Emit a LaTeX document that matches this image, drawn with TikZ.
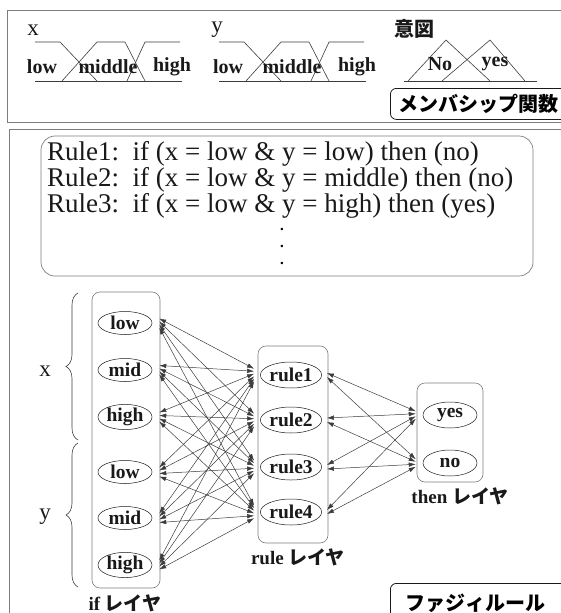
\documentclass[tikz,border=0pt]{standalone}
\usepackage{fontspec}
\setmainfont{Liberation Serif}
\newfontfamily\jpfont{Noto Sans CJK JP}
\usepackage{tikz}
\usetikzlibrary{arrows.meta, shapes.geometric, decorations.pathreplacing}
\definecolor{linegray}{RGB}{60, 60, 60}
\definecolor{framegray}{RGB}{125, 125, 125}
\definecolor{inkblack}{RGB}{25, 25, 25}

\begin{document}
\begin{tikzpicture}[
    x=1pt, y=-1pt,
    panel/.style={draw=framegray, line width=0.7pt},
    mf/.style={draw=linegray, line width=0.6pt},
    mtitle/.style={font=\fontsize{23}{23}\selectfont, color=inkblack},
    mlabel/.style={font=\fontsize{20}{20}\selectfont\bfseries, color=inkblack},
    tagbox/.style={draw=inkblack, line width=0.8pt, rounded corners=6pt, anchor=north west,
                   align=left, inner ysep=0pt, font=\jpfont\fontsize{20}{20}\selectfont\bfseries},
    ruletext/.style={anchor=base west, inner sep=0pt, font=\fontsize{27}{27}\selectfont, color=inkblack},
    lyr/.style={draw=framegray, rounded corners=8pt, line width=0.6pt},
    lyrlabel/.style={font=\fontsize{19}{19}\selectfont\bfseries, color=inkblack},
    fz/.style={ellipse, draw=framegray, line width=0.5pt, minimum width=54pt, minimum height=24pt,
               inner sep=0pt, font=\fontsize{19.5}{19.5}\selectfont\bfseries, color=inkblack},
    link/.style={draw=linegray, line width=0.5pt, {Latex[length=7pt,width=4.5pt]}-{Latex[length=7pt,width=4.5pt]}},
]
    \useasboundingbox (0,0) rectangle (561,613);

    % Membership functions panel
    \draw[panel] (7,10) rectangle (575,122);

    \node[mtitle] (xname) at (33,30) {x};
    \draw[mf] (35,42) -- (60,42) -- (97,81);
    \draw[mf] (62,81) -- (97,42) -- (125,42) -- (145,81);
    \draw[mf] (127,81) -- (145,42) -- (180,42);
    \draw[mf] (35,81) -- (182,81);
    \node[mlabel] (xlow) at (42,67) {low};
    \node[mlabel] (xmid) at (108,67) {middle};
    \node[mlabel] (xhigh) at (172,67) {high};

    \node[mtitle] (yname) at (217,30) {y};
    \draw[mf] (219,42) -- (244,42) -- (281,81);
    \draw[mf] (246,81) -- (281,42) -- (309,42) -- (329,81);
    \draw[mf] (311,81) -- (329,42) -- (364,42);
    \draw[mf] (219,81) -- (366,81);
    \node[mlabel] (ylow) at (228,67) {low};
    \node[mlabel] (ymid) at (292,67) {middle};
    \node[mlabel] (yhigh) at (357,67) {high};

    \node[font=\jpfont\fontsize{20}{20}\selectfont\bfseries, color=inkblack] (intent) at (414,29) {意図};
    \draw[mf] (408,81) -- (446,40) -- (490,81);
    \draw[mf] (442,81) -- (490,40) -- (525,81);
    \draw[mf] (404,81) -- (537,81);
    \node[mlabel] (ino) at (440,64) {No};
    \node[mlabel] (iyes) at (495,64) {yes};

    \node[tagbox, minimum height=31pt, text width=170pt, inner xsep=8pt] (mftag) at (390,88) {メンバシップ関数};

    % Fuzzy rule panel
    \draw[panel] (9,129) rectangle (575,625);
    \draw[panel, rounded corners=14pt] (41,136) rectangle (533,276);
    \node[ruletext] (rule1txt) at (47,160) {Rule1:\ \ if (x = low \& y = low) then (no)};
    \node[ruletext] (rule2txt) at (47,186) {Rule2:\ \ if (x = low \& y = middle) then (no)};
    \node[ruletext] (rule3txt) at (47,212) {Rule3:\ \ if (x = low \& y = high) then (yes)};
    \node[align=center, inner sep=0pt, font=\fontsize{15}{17}\selectfont\bfseries] (moredots) at (282,246) {.\\.\\.};

    % Braces for inputs
    \draw[decorate, decoration={brace, amplitude=12pt}, draw=linegray, line width=0.6pt] (78,440) -- (78,293);
    \draw[decorate, decoration={brace, amplitude=12pt}, draw=linegray, line width=0.6pt] (78,587) -- (78,443);
    \node[mtitle] (xin) at (45,371) {x};
    \node[mtitle] (yin) at (45,517) {y};

    % if layer
    \draw[lyr] (92,292) rectangle (160,588);
    \node[fz, minimum height=23pt] (i1) at (125,323) {low};
    \node[fz, minimum height=23pt] (i2) at (125,370) {mid};
    \node[fz, minimum height=23pt] (i3) at (125,417) {high};
    \node[fz, minimum height=23pt] (i4) at (125,472) {low};
    \node[fz, minimum height=23pt] (i5) at (125,518) {mid};
    \node[fz, minimum height=23pt] (i6) at (125,565) {high};
    \node[lyrlabel] (iflbl) at (125,603) {if {\jpfont レイヤ}};

    % rule layer
    \draw[lyr] (258,346) rectangle (328,543);
    \node[fz, minimum height=26pt] (r1) at (291,375) {rule1};
    \node[fz, minimum height=26pt] (r2) at (291,420) {rule2};
    \node[fz, minimum height=26pt] (r3) at (291,467) {rule3};
    \node[fz, minimum height=26pt] (r4) at (291,512) {rule4};
    \node[lyrlabel] (rulelbl) at (298,557) {rule {\jpfont レイヤ}};

    % then layer
    \draw[lyr] (417,383) rectangle (483,482);
    \node[fz, minimum height=26pt] (tyes) at (450,415) {yes};
    \node[fz, minimum height=26pt] (tno) at (450,463) {no};
    \node[lyrlabel] (thenlbl) at (460,496) {then {\jpfont レイヤ}};

    % Connections
    \foreach \i in {1,...,6}
        \foreach \j in {1,...,4}
            \draw[link] ([xshift=7pt, yshift={(2.5-\j)*3pt}]i\i.east) -- ([xshift=-6pt, yshift={(3.5-\i)*2.5pt}]r\j.west);
    \foreach \j in {1,...,4} {
        \draw[link] ([xshift=5pt, yshift=2pt]r\j.east) -- ([xshift=-7pt, yshift={(2.5-\j)*2.5pt}]tyes.west);
        \draw[link] ([xshift=5pt, yshift=-2pt]r\j.east) -- ([xshift=-7pt, yshift={(2.5-\j)*2.5pt}]tno.west);
    }

    \node[tagbox, minimum height=40pt, text width=160pt, inner xsep=15pt] (fztag) at (390,583) {ファジィルール};
\end{tikzpicture}
\end{document}
